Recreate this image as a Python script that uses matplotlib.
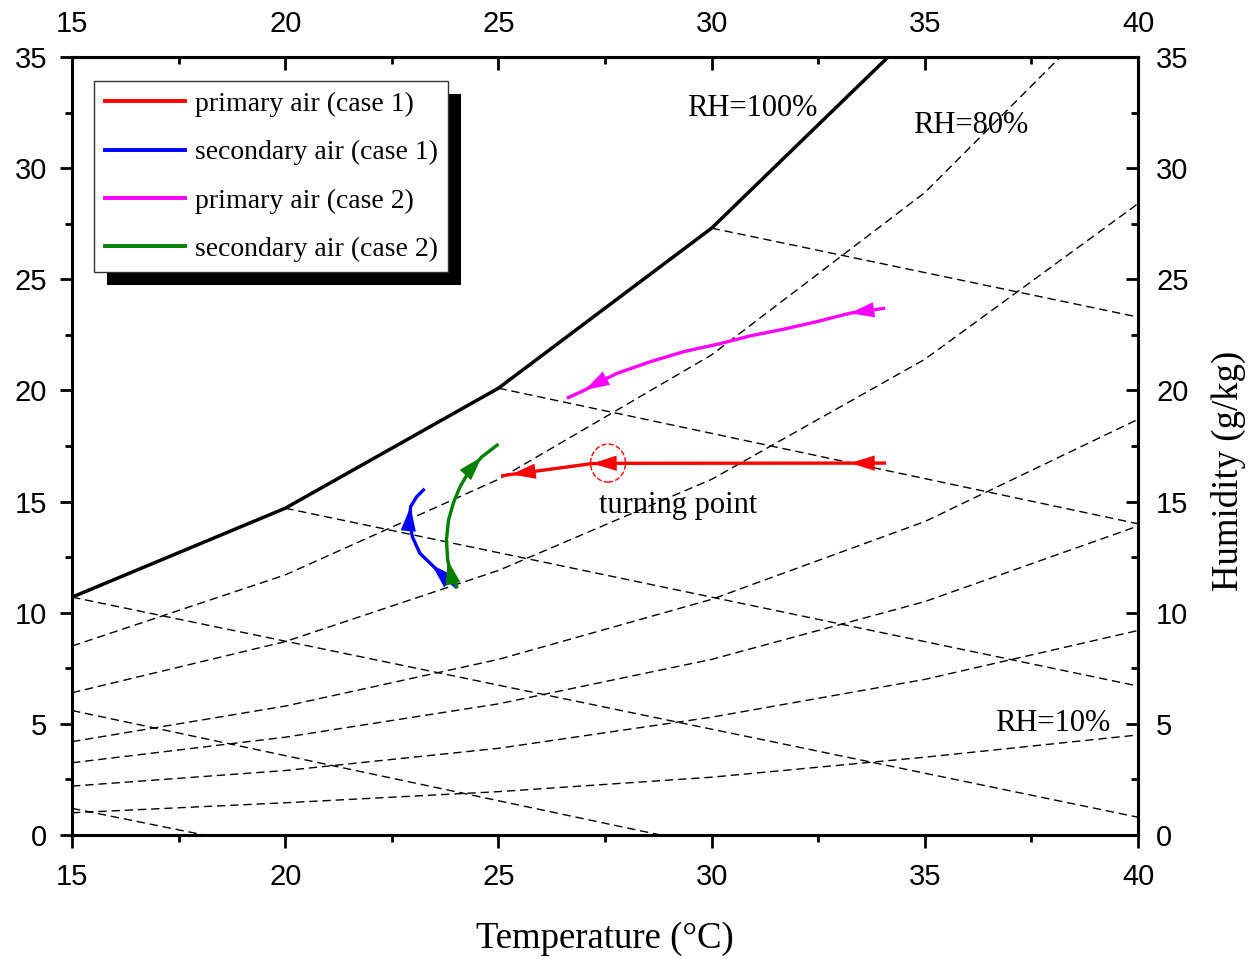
import numpy as np
import matplotlib
matplotlib.use('Agg')
import matplotlib.pyplot as plt
from matplotlib.patches import Ellipse, Rectangle
from matplotlib.ticker import MultipleLocator
from matplotlib.transforms import IdentityTransform

plt.rcParams['font.family'] = 'Liberation Sans'
SERIF = 'Liberation Serif'

# --- psychrometric grid (humidity g/kg at 15..40 C) ---
temp_grid = [15, 20, 25, 30, 35, 40]
rh100 = [10.7, 14.7, 20.1, 27.3, 36.6, 48.9]
rh80 = [8.5, 11.7, 16.0, 21.6, 28.9, 38.5]
rh60 = [6.4, 8.7, 11.9, 16.0, 21.4, 28.4]
rh40 = [4.2, 5.8, 7.9, 10.6, 14.1, 18.7]
rh30 = [3.25, 4.4, 5.9, 7.9, 10.5, 13.9]
rh20 = [2.2, 2.9, 3.9, 5.3, 7.0, 9.2]
rh10 = [1.0, 1.45, 1.95, 2.6, 3.5, 4.5]

# constant enthalpy lines (start / end points)
enth_t = [[30, 40], [25, 40], [20, 40], [15, 40], [15, 28.8], [15, 18.1]]
enth_w = [[27.3, 23.3], [20.1, 14.0], [14.7, 6.7], [10.7, 0.8], [5.6, 0.0], [1.2, 0.0]]

# --- air state paths (in flow direction) ---
red_t = [34.05, 33.25, 27.6, 27.2, 26.2, 25.3, 25.1]
red_w = [16.73, 16.73, 16.72, 16.71, 16.45, 16.22, 16.16]
red_arrows = [1, 3, 5]

blue_t = [24.00, 23.71, 23.44, 23.16, 22.98, 22.91, 22.94, 23.08, 23.24]
blue_w = [11.17, 11.65, 12.15, 12.67, 13.42, 14.17, 14.77, 15.21, 15.52]
blue_arrows = [2, 6]

mag_t = [34.03, 33.24, 32.46, 31.68, 30.90, 30.21, 29.34, 28.56, 27.77, 27.38, 27.03, 26.64]
mag_w = [23.69, 23.47, 23.09, 22.75, 22.45, 22.11, 21.74, 21.29, 20.76, 20.39, 20.02, 19.68]
mag_arrows = [1, 10]

green_t = [24.02, 23.88, 23.81, 23.78, 23.83, 23.94, 24.10, 24.33, 24.61, 24.97]
green_w = [11.17, 11.76, 12.37, 13.27, 14.17, 14.92, 15.67, 16.42, 17.01, 17.54]
green_arrows = [2, 8]

turning_point = (27.57, 16.73)

fig = plt.figure(figsize=(12.55, 9.59), dpi=100)
ax = fig.add_axes([0.0574, 0.1293, 0.8494, 0.8113])

# grid of RH and enthalpy lines
ax.plot(temp_grid, rh100, color='k', lw=2.5, solid_capstyle='butt')
for rh in [rh80, rh60, rh40, rh30, rh20, rh10]:
    ax.plot(temp_grid, rh, color='k', lw=1.0, dashes=(6, 3.5))
for t, w in zip(enth_t, enth_w):
    ax.plot(t, w, color='k', lw=1.0, dashes=(6, 3.5))

paths = [
    (red_t, red_w, red_arrows, 'red', 'primary air (case 1)'),
    (blue_t, blue_w, blue_arrows, 'blue', 'secondary air (case 1)'),
    (mag_t, mag_w, mag_arrows, 'magenta', 'primary air (case 2)'),
    (green_t, green_w, green_arrows, 'green', 'secondary air (case 2)'),
]
for t, w, arrows, c, lab in paths:
    ax.plot(t, w, color=c, lw=2.4, label=lab, zorder=3, solid_joinstyle='round')
    for i in arrows:
        ax.annotate('', xy=(t[i], w[i]), xytext=(t[i - 1], w[i - 1]),
                    arrowprops=dict(arrowstyle='-|>,head_length=0.8,head_width=0.25',
                                    color=c, lw=0, mutation_scale=22,
                                    shrinkA=0, shrinkB=0), zorder=4)

ax.add_patch(Ellipse(turning_point, width=0.82, height=1.71, fill=False,
                     ec='red', ls='--', lw=1, zorder=3))

ax.text(29.21, 14.84, 'turning point', fontsize=22, family=SERIF, ha='center', va='center')
ax.text(30.95, 32.7, 'RH=100%', fontsize=22, family=SERIF, ha='center', va='center')
ax.text(36.08, 31.9, 'RH=80%', fontsize=22, family=SERIF, ha='center', va='center')
ax.text(38.0, 5.0, 'RH=10%', fontsize=22, family=SERIF, ha='center', va='center')

ax.set_xlim(15, 40)
ax.set_ylim(0, 35)
ax.set_autoscale_on(False)

for s in ax.spines.values():
    s.set_linewidth(2.2)

ax.xaxis.set_major_locator(MultipleLocator(5))
ax.xaxis.set_minor_locator(MultipleLocator(2.5))
ax.yaxis.set_major_locator(MultipleLocator(5))
ax.yaxis.set_minor_locator(MultipleLocator(2.5))
ax.tick_params(axis='x', which='major', direction='out', length=9, width=2, labelsize=21, pad=11)
ax.tick_params(axis='y', which='major', direction='out', length=9, width=2, labelsize=21, pad=9)
ax.tick_params(which='minor', direction='out', length=5, width=2)

secx = ax.secondary_xaxis('top')
secx.xaxis.set_major_locator(MultipleLocator(5))
secx.xaxis.set_minor_locator(MultipleLocator(2.5))
secx.tick_params(which='major', direction='in', length=9, width=2, labelsize=21, pad=13.5)
secx.tick_params(which='minor', direction='in', length=5, width=2)
secx.spines['top'].set_linewidth(2.2)

secy = ax.secondary_yaxis('right')
secy.yaxis.set_major_locator(MultipleLocator(5))
secy.yaxis.set_minor_locator(MultipleLocator(2.5))
secy.tick_params(which='major', direction='in', length=9, width=2, labelsize=21, pad=13)
secy.tick_params(which='minor', direction='in', length=5, width=2)
secy.spines['right'].set_linewidth(2.2)

ax.set_xlabel('Temperature (\u00b0C)', fontsize=26.5, family=SERIF, labelpad=22)
secy.set_ylabel('Humidity (g/kg)', fontsize=26.5, family=SERIF, va='center')
secy.yaxis.set_label_coords(1.0844, 0.468, transform=ax.transAxes)

leg = ax.legend(loc='upper left', bbox_to_anchor=(0.0206, 0.969), borderaxespad=0,
                prop={'family': SERIF, 'size': 20}, fancybox=False, framealpha=1,
                edgecolor='#333333', handlelength=2.9, handletextpad=0.35,
                labelspacing=0.82, borderpad=0.38)
leg.get_frame().set_linewidth(1.0)
for ln in leg.get_lines():
    ln.set_linewidth(2.8)

# solid black drop shadow behind the legend
fig.canvas.draw()
bb = leg.get_window_extent()
shadow = Rectangle((bb.x0 + 13, bb.y0 - 13), bb.width, bb.height, transform=IdentityTransform(),
                   fc='k', ec='none', zorder=4.9, clip_on=False)
ax.add_artist(shadow)

fig.savefig('out.png', dpi=100)
